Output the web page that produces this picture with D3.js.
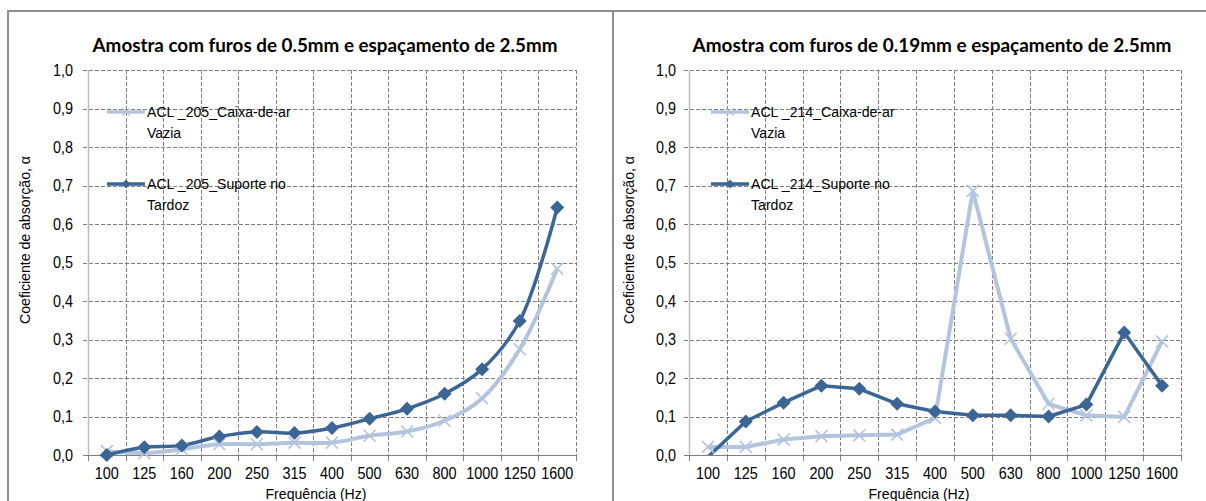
<!DOCTYPE html>
<html>
<head>
<meta charset="utf-8">
<script src="https://cdn.jsdelivr.net/npm/d3@7"></script>
<style>
  html, body { margin: 0; padding: 0; background: #fff; }
  svg { display: block; }
  .narrow { font-family: "Liberation Sans", Arial, sans-serif; fill: #000; }
  .chart-title { font-family: Lato, "Open Sans", sans-serif; font-weight: bold; fill: #000; }
</style>
</head>
<body>
<svg id="chart" width="1206" height="501"></svg>
<script>
(function () {
    "use strict";

    // frequency bands (Hz)
    var categories = ["100", "125", "160", "200", "250", "315", "400", "500", "630", "800", "1000", "1250", "1600"];
    var yTicks = [0, 0.1, 0.2, 0.3, 0.4, 0.5, 0.6, 0.7, 0.8, 0.9, 1.0];

    // left panel: furos 0.5mm
    var leftTitle = "Amostra com furos de 0.5mm e espaçamento de 2.5mm";
    var leftCaixaName = ["ACL _205_Caixa-de-ar", "Vazia"];
    var leftSuporteName = ["ACL _205_Suporte no", "Tardoz"];
    var leftCaixa = [0.010, 0.005, 0.015, 0.028, 0.028, 0.032, 0.032, 0.050, 0.061, 0.089, 0.147, 0.275, 0.484];
    var leftSuporte = [0.000, 0.020, 0.025, 0.048, 0.060, 0.057, 0.070, 0.094, 0.120, 0.159, 0.223, 0.348, 0.643];

    // right panel: furos 0.19mm
    var rightTitle = "Amostra com furos de 0.19mm e espaçamento de 2.5mm";
    var rightCaixaName = ["ACL _214_Caixa-de-ar", "Vazia"];
    var rightSuporteName = ["ACL _214_Suporte no", "Tardoz"];
    var rightCaixa = [0.021, 0.021, 0.040, 0.049, 0.051, 0.053, 0.096, 0.686, 0.302, 0.133, 0.103, 0.099, 0.295];
    var rightSuporte = [-0.005, 0.087, 0.136, 0.180, 0.172, 0.133, 0.113, 0.103, 0.103, 0.100, 0.131, 0.318, 0.180];

    var xTitle = "Frequência (Hz)";
    var yTitle = "Coeficiente de absorção, α";

    var darkBlue = "#3b6595";
    var lightBlue = "#b3c4de";
    var gridColor = "#808080";
    var frameColor = "#8e8e8e";

    var svg = d3.select("#chart");

    // outer frames of the two pasted charts
    svg.append("line").attr("x1", 7).attr("x2", 1206).attr("y1", 11).attr("y2", 11)
        .attr("stroke", frameColor).attr("stroke-width", 2);
    svg.append("line").attr("x1", 8).attr("x2", 8).attr("y1", 10).attr("y2", 501)
        .attr("stroke", frameColor).attr("stroke-width", 2);
    svg.append("line").attr("x1", 613).attr("x2", 613).attr("y1", 10).attr("y2", 501)
        .attr("stroke", frameColor).attr("stroke-width", 2);

    function fmt(v) { return d3.format(".1f")(v).replace(".", ","); }

    // Arial Narrow look-alike: Liberation Sans squeezed a little
    function narrowText(parent, x, y, str, size, anchor, rotate, sx) {
        var t = "translate(" + x + "," + y + ")" + (rotate ? " rotate(" + rotate + ")" : "") + " scale(" + (sx || 0.94) + ",1)";
        return parent.append("text").attr("class", "narrow")
            .attr("transform", t)
            .attr("text-anchor", anchor || "start")
            .style("font-size", size + "px")
            .text(str);
    }

    function drawPanel(p) {
        var x = d3.scaleBand().domain(categories).range([p.left, p.right]).padding(0);
        var y = d3.scaleLinear().domain([0, 1]).range([p.bottom, p.top]);
        var cx = function (d, i) { return x(categories[i]) + x.bandwidth() / 2; };
        var g = svg.append("g");

        // title
        var title = g.append("text").attr("class", "chart-title")
            .attr("x", p.titleX).attr("y", 52)
            .attr("text-anchor", "middle")
            .style("font-size", "18px")
            .text(p.title);
        var w = title.node().getComputedTextLength();
        title.style("font-size", (18 * p.titleWidth / w).toFixed(2) + "px");

        // horizontal grid
        g.selectAll("line.hgrid").data(yTicks).enter().append("line").attr("class", "hgrid")
            .attr("x1", p.left - 5).attr("x2", p.right)
            .attr("y1", function (d) { return Math.round(y(d)) + 0.5; })
            .attr("y2", function (d) { return Math.round(y(d)) + 0.5; })
            .attr("stroke", gridColor).attr("stroke-width", 1)
            .attr("stroke-dasharray", function (d) { return d === 0 ? null : "4,2"; });

        // vertical grid at band edges
        var edges = categories.slice(1).map(function (c) { return x(c); }).concat([p.right]);
        g.selectAll("line.vgrid").data(edges).enter().append("line").attr("class", "vgrid")
            .attr("x1", function (d) { return Math.round(d) + 0.5; })
            .attr("x2", function (d) { return Math.round(d) + 0.5; })
            .attr("y1", p.top).attr("y2", p.bottom)
            .attr("stroke", gridColor).attr("stroke-width", 1).attr("stroke-dasharray", "4,2");
        g.selectAll("line.xtick").data([p.left].concat(edges)).enter().append("line").attr("class", "xtick")
            .attr("x1", function (d) { return Math.round(d) + 0.5; })
            .attr("x2", function (d) { return Math.round(d) + 0.5; })
            .attr("y1", p.bottom).attr("y2", p.bottom + 6)
            .attr("stroke", gridColor).attr("stroke-width", 1);

        // y axis line
        g.append("line")
            .attr("x1", Math.round(p.left) + 0.5).attr("x2", Math.round(p.left) + 0.5)
            .attr("y1", p.top).attr("y2", p.bottom)
            .attr("stroke", "#bcbcbc").attr("stroke-width", 1.5);

        // tick labels
        yTicks.forEach(function (d) {
            narrowText(g, p.left - p.yLabelGap, y(d) + 5.5, fmt(d), 16, "end", 0, 0.9);
        });
        categories.forEach(function (c) {
            narrowText(g, x(c) + x.bandwidth() / 2, p.bottom + 24, c, 16, "middle", 0, 0.9);
        });

        // axis titles
        narrowText(g, p.xTitleX, 499, xTitle, 15, "middle");
        narrowText(g, p.yTitleX, 240, yTitle, 15, "middle", -90);

        // clip
        var clipId = "clip" + p.id;
        svg.append("clipPath").attr("id", clipId).append("rect")
            .attr("x", p.left).attr("y", p.top - 10)
            .attr("width", p.right - p.left + 10).attr("height", p.bottom - p.top + 10);

        var line = d3.line()
            .x(cx)
            .y(function (d) { return y(d); })
            .curve(p.curve);

        var series = g.append("g").attr("clip-path", "url(#" + clipId + ")");
        series.append("path").datum(p.caixa)
            .attr("d", line).attr("fill", "none")
            .attr("stroke", lightBlue).attr("stroke-width", 4)
            .attr("stroke-linejoin", "round");
        series.append("path").datum(p.suporte)
            .attr("d", line).attr("fill", "none")
            .attr("stroke", darkBlue).attr("stroke-width", 3.5)
            .attr("stroke-linejoin", "round");

        // markers (hidden when outside the plot range)
        var crossPath = "M-6,-6L6,6M-6,6L6,-6";
        var diamondPath = "M0,-7L7,0L0,7L-7,0Z";
        var mk = g.append("g");
        p.caixa.forEach(function (d, i) {
            if (d < 0) return;
            mk.append("path")
                .attr("transform", "translate(" + cx(d, i) + "," + y(d) + ")")
                .attr("d", crossPath).attr("stroke", lightBlue).attr("stroke-width", 1.6).attr("fill", "none");
        });
        p.suporte.forEach(function (d, i) {
            if (d < 0) return;
            mk.append("path")
                .attr("transform", "translate(" + cx(d, i) + "," + y(d) + ")")
                .attr("d", diamondPath).attr("fill", darkBlue);
        });

        // legend
        var lg = g.append("g");
        var entries = [
            { name: p.caixaName, color: lightBlue, y: 112, mark: crossPath, cross: true },
            { name: p.suporteName, color: darkBlue, y: 184, mark: diamondPath, cross: false }
        ];
        entries.forEach(function (e) {
            lg.append("line").attr("x1", p.legendX).attr("x2", p.legendX + 38)
                .attr("y1", e.y).attr("y2", e.y)
                .attr("stroke", e.color).attr("stroke-width", 3.5);
            var m = lg.append("path")
                .attr("transform", "translate(" + (p.legendX + 19) + "," + e.y + ") scale(0.65)")
                .attr("d", e.mark);
            if (e.cross) m.attr("stroke", e.color).attr("stroke-width", 2).attr("fill", "none");
            else m.attr("fill", e.color);
            narrowText(lg, p.legendX + 40, e.y + 5, e.name[0], 15);
            narrowText(lg, p.legendX + 40, e.y + 26, e.name[1], 15);
        });
    }

    drawPanel({
        id: "L", left: 88, right: 576, top: 70, bottom: 455,
        title: leftTitle, titleX: 325, titleWidth: 465,
        xTitleX: 316, yTitleX: 30, yLabelGap: 15, legendX: 107,
        caixa: leftCaixa, suporte: leftSuporte,
        caixaName: leftCaixaName, suporteName: leftSuporteName,
        curve: d3.curveCatmullRom.alpha(0.5)
    });
    drawPanel({
        id: "R", left: 689, right: 1181, top: 70, bottom: 455,
        title: rightTitle, titleX: 932, titleWidth: 479,
        xTitleX: 919, yTitleX: 634, yLabelGap: 13, legendX: 711,
        caixa: rightCaixa, suporte: rightSuporte,
        caixaName: rightCaixaName, suporteName: rightSuporteName,
        curve: d3.curveLinear
    });
})();
</script>
</body>
</html>
